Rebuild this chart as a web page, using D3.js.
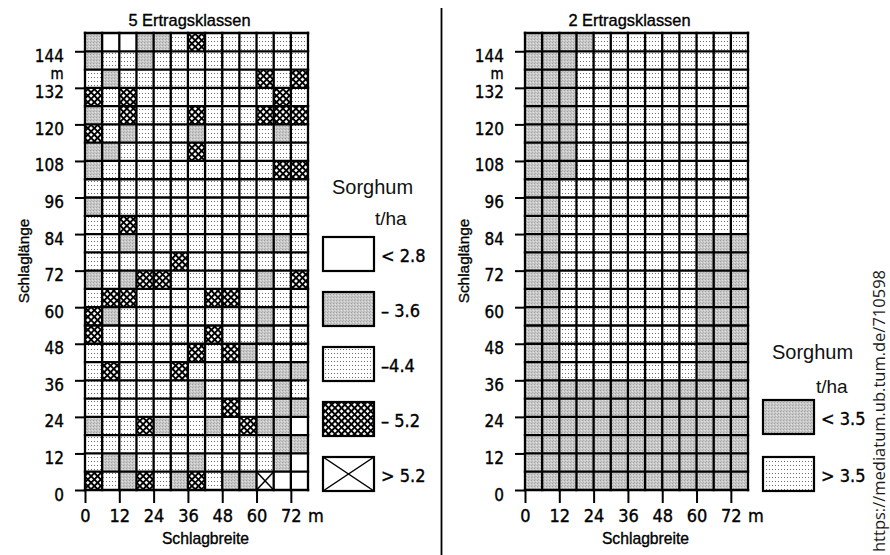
<!DOCTYPE html>
<html><head><meta charset="utf-8">
<script src="https://cdn.jsdelivr.net/npm/d3@7"></script>
<style>body{margin:0;background:#fff}</style>
</head><body><svg id="c" width="890" height="555"></svg>
<script>
// ---------- DATA ----------
const fieldWidth = 78;     // m (Schlagbreite)
const fieldLength = 150;   // m (Schlaglänge)
const cellSize = 6;        // m per plot
const yTickValues = [0, 12, 24, 36, 48, 60, 72, 84, 96, 108, 120, 132, 144];
const xTickValues = [0, 12, 24, 36, 48, 60, 72];

// left panel: 5 yield classes, rows from top (150 m) to bottom (0 m)
// 0: < 2.8   1: – 3.6   2: –4.4   3: – 5.2   4: > 5.2
const leftClasses = [
  [1,0,0,1,1,2,3,2,2,2,2,2,2],
  [1,2,2,1,2,2,2,2,2,2,2,2,2],
  [2,1,2,2,2,2,2,2,2,2,3,2,3],
  [3,2,3,2,2,2,2,2,2,2,2,3,2],
  [1,2,3,2,2,2,3,2,2,2,3,3,3],
  [3,2,1,2,2,2,1,2,2,2,2,1,2],
  [1,1,2,2,2,2,3,2,2,2,2,2,2],
  [1,2,2,2,2,2,2,2,2,2,2,3,3],
  [2,2,2,2,2,2,2,2,2,2,2,2,2],
  [1,2,2,2,2,2,2,2,2,2,2,2,2],
  [2,2,3,2,2,2,2,2,2,2,2,2,2],
  [2,2,1,2,2,2,2,2,2,2,1,1,2],
  [2,2,2,2,2,3,2,2,2,2,2,2,2],
  [1,2,1,3,3,2,2,2,2,2,1,2,3],
  [2,3,3,2,2,2,2,3,3,2,2,2,2],
  [3,1,2,2,2,2,2,2,2,2,1,2,2],
  [3,2,2,2,2,2,2,3,2,2,1,2,2],
  [2,2,2,2,2,2,3,2,3,1,2,2,2],
  [2,3,2,2,2,3,2,2,2,2,1,1,1],
  [2,2,2,2,2,2,1,2,2,2,2,1,2],
  [2,2,2,2,2,2,2,2,3,2,2,1,1],
  [1,2,2,3,1,2,2,1,2,3,1,1,0],
  [2,2,2,2,2,2,2,2,2,2,2,1,1],
  [2,1,1,2,2,2,1,2,2,2,2,1,0],
  [3,2,1,3,2,1,3,2,1,1,4,0,0]
];
// right panel: 2 yield classes; 0: < 3.5   1: > 3.5
const rightClasses = [
  [0,0,0,0,1,1,1,1,1,1,1,1,1],
  [0,0,0,1,1,1,1,1,1,1,1,1,1],
  [0,0,0,1,1,1,1,1,1,1,1,1,1],
  [0,0,0,1,1,1,1,1,1,1,1,1,1],
  [0,0,0,1,1,1,1,1,1,1,1,1,1],
  [0,0,0,1,1,1,1,1,1,1,1,1,1],
  [0,0,0,1,1,1,1,1,1,1,1,1,1],
  [0,0,0,1,1,1,1,1,1,1,1,1,1],
  [0,0,1,1,1,1,1,1,1,1,1,1,1],
  [0,0,1,1,1,1,1,1,1,1,1,1,1],
  [0,0,1,1,1,1,1,1,1,1,1,1,1],
  [0,0,1,1,1,1,1,1,1,1,0,0,0],
  [0,0,1,1,1,1,1,1,1,1,0,0,0],
  [0,0,1,1,1,1,1,1,1,1,0,0,0],
  [0,0,1,1,1,1,1,1,1,1,0,0,0],
  [0,0,1,1,1,1,1,1,1,1,0,0,0],
  [0,0,1,1,1,1,1,1,1,1,0,0,0],
  [0,0,1,1,1,1,1,1,1,1,0,0,0],
  [0,0,1,1,1,1,1,1,1,1,0,0,0],
  [0,0,0,0,0,0,0,0,0,0,0,0,0],
  [0,0,0,0,0,0,0,0,0,0,0,0,0],
  [0,0,0,0,0,0,0,0,0,0,0,0,0],
  [0,0,0,0,0,0,0,0,0,0,0,0,0],
  [0,0,0,0,0,0,0,0,0,0,0,0,0],
  [0,0,0,0,0,0,0,0,0,0,0,0,0]
];
const leftTitle = "5 Ertragsklassen";
const rightTitle = "2 Ertragsklassen";
const xAxisTitle = "Schlagbreite";
const yAxisTitle = "Schlaglänge";
const legendTitle = "Sorghum";
const legendUnit = "t/ha";
const leftLegendLabels = ["< 2.8", "– 3.6", "–4.4", "– 5.2", "> 5.2"];
const rightLegendLabels = ["< 3.5", "> 3.5"];
const sourceText = "https://mediatum.ub.tum.de/710598";

// ---------- DRAWING ----------
const svg = d3.select("#c");
svg.append("rect").attr("width", 890).attr("height", 555).attr("fill", "#fff");
const defs = svg.append("defs");

const pg = defs.append("pattern").attr("id", "pGray").attr("patternUnits", "userSpaceOnUse").attr("width", 3).attr("height", 3);
pg.append("rect").attr("width", 3).attr("height", 3).attr("fill", "#c8c8c8");
pg.append("rect").attr("x", 0).attr("y", 0).attr("width", 1).attr("height", 1).attr("fill", "#a2a2a2");
pg.append("rect").attr("x", 2).attr("y", 1).attr("width", 1).attr("height", 1).attr("fill", "#e0e0e0");
pg.append("rect").attr("x", 1).attr("y", 2).attr("width", 1).attr("height", 1).attr("fill", "#b2b2b2");

const pd = defs.append("pattern").attr("id", "pDot").attr("patternUnits", "userSpaceOnUse").attr("width", 3).attr("height", 4);
pd.append("rect").attr("width", 3).attr("height", 4).attr("fill", "#fff");
pd.append("rect").attr("x", 1).attr("y", 1).attr("width", 1).attr("height", 1).attr("fill", "#6e6e6e");

const pc = defs.append("pattern").attr("id", "pCross").attr("patternUnits", "userSpaceOnUse")
  .attr("width", 4.6).attr("height", 4.6).attr("patternTransform", "rotate(45)");
pc.append("rect").attr("width", 4.6).attr("height", 4.6).attr("fill", "#fff");
pc.append("rect").attr("width", 4.6).attr("height", 1.9).attr("fill", "#000");
pc.append("rect").attr("width", 1.9).attr("height", 4.6).attr("fill", "#000");

const leftFills = ["#fff", "url(#pGray)", "url(#pDot)", "url(#pCross)", "#fff"];
const rightFills = ["url(#pGray)", "url(#pDot)"];

const narrow = "'Liberation Sans Narrow','Arial Narrow','DejaVu Sans Condensed',sans-serif";
const regular = "'Liberation Sans',Arial,sans-serif";
const heavy = sel => sel.attr("stroke", "#000").attr("stroke-width", 0.35).attr("fill", "#000");

function panel(x0, classes, fills, title) {
  const x = d3.scaleLinear().domain([0, fieldWidth]).range([x0, x0 + 223]);
  const y = d3.scaleLinear().domain([0, fieldLength]).range([490, 33]);
  const g = svg.append("g");
  const cells = classes.flatMap((row, r) => row.map((k, c) => ({
    k, xm: c * cellSize, ym: fieldLength - (r + 1) * cellSize })));
  g.selectAll("rect.cell").data(cells).join("rect").attr("class", "cell")
    .attr("x", d => x(d.xm)).attr("y", d => y(d.ym + cellSize))
    .attr("width", d => x(d.xm + cellSize) - x(d.xm))
    .attr("height", d => y(d.ym) - y(d.ym + cellSize))
    .attr("fill", d => fills[d.k]);
  // X marks for highest class
  const xc = cells.filter(d => fills.length === 5 && d.k === 4);
  xc.forEach(d => {
    g.append("line").attr("x1", x(d.xm)).attr("y1", y(d.ym + cellSize)).attr("x2", x(d.xm + cellSize)).attr("y2", y(d.ym))
      .attr("stroke", "#000").attr("stroke-width", 1.5);
    g.append("line").attr("x1", x(d.xm + cellSize)).attr("y1", y(d.ym + cellSize)).attr("x2", x(d.xm)).attr("y2", y(d.ym))
      .attr("stroke", "#000").attr("stroke-width", 1.5);
  });
  // grid lines
  const vx = d3.range(0, fieldWidth + 1, cellSize);
  const hy = d3.range(0, fieldLength + 1, cellSize);
  g.selectAll("line.v").data(vx).join("line").attr("class", "v")
    .attr("x1", d => x(d)).attr("x2", d => x(d)).attr("y1", y(0) + 1.2).attr("y2", y(fieldLength) - 1.2)
    .attr("stroke", "#000").attr("stroke-width", 2.3);
  g.selectAll("line.h").data(hy).join("line").attr("class", "h")
    .attr("y1", d => y(d)).attr("y2", d => y(d)).attr("x1", x(0) - 1.2).attr("x2", x(fieldWidth) + 1.2)
    .attr("stroke", "#000").attr("stroke-width", 2.3);

  // axes
  const ya = g.append("g").attr("transform", `translate(${x0},0)`)
    .call(d3.axisLeft(y).tickValues(yTickValues).tickSize(10).tickPadding(11));
  ya.select(".domain").remove();
  ya.selectAll(".tick line").attr("stroke", "#000").attr("stroke-width", 2);
  ya.selectAll(".tick text").attr("dy", "0.59em").call(heavy)
    .style("font-family", narrow).style("font-size", "17px");
  const xa = g.append("g").attr("transform", `translate(0,${y(0)})`)
    .call(d3.axisBottom(x).tickValues(xTickValues).tickSize(13).tickPadding(6));
  xa.select(".domain").remove();
  xa.selectAll(".tick line").attr("stroke", "#000").attr("stroke-width", 2);
  xa.selectAll(".tick text").call(heavy)
    .style("font-family", narrow).style("font-size", "18px");
  // unit labels
  g.append("text").attr("x", x0 - 28).attr("y", 79).attr("text-anchor", "middle").call(heavy)
    .style("font-family", narrow).style("font-size", "15px").text("m");
  g.append("text").attr("x", x(fieldWidth) + 8).attr("y", 522).attr("text-anchor", "middle").call(heavy)
    .style("font-family", narrow).style("font-size", "18px").text("m");
  // titles
  g.append("text").attr("x", x(fieldWidth / 2) - 7).attr("y", 26).attr("text-anchor", "middle").call(heavy)
    .style("font-family", regular).style("font-size", "16.4px").text(title);
  g.append("text").attr("x", x(fieldWidth / 2) + 9).attr("y", 544).attr("text-anchor", "middle").call(heavy)
    .style("font-family", regular).style("font-size", "15.7px").text(xAxisTitle);
  g.append("text").attr("transform", `translate(${x0 - 56},261) rotate(-90)`).attr("text-anchor", "middle").call(heavy)
    .style("font-family", regular).style("font-size", "15.4px").text(yAxisTitle);
}

panel(85, leftClasses, leftFills, leftTitle);
panel(525, rightClasses, rightFills, rightTitle);

// separator
svg.append("line").attr("x1", 441.5).attr("x2", 441.5).attr("y1", 8).attr("y2", 555)
  .attr("stroke", "#000").attr("stroke-width", 1.8);

// legends
function legend(bx, titleY, unitX, unitY, labels, fills, firstTop, step, isLeft) {
  const g = svg.append("g");
  g.append("text").attr("x", bx + 9).attr("y", titleY).attr("fill", "#111")
    .style("font-family", regular).style("font-size", "20px").text(legendTitle);
  g.append("text").attr("x", unitX).attr("y", unitY).attr("fill", "#111")
    .style("font-family", regular).style("font-size", "19px").text(legendUnit);
  const items = labels.map((l, i) => ({ l, i, top: firstTop + i * step }));
  const it = g.selectAll("g.item").data(items).join("g").attr("class", "item");
  it.append("rect").attr("x", bx).attr("y", d => d.top).attr("width", 51).attr("height", 34)
    .attr("fill", d => fills[d.i]).attr("stroke", "#000").attr("stroke-width", 2.2);
  it.filter(d => isLeft && d.i === 4).each(function (d) {
    d3.select(this).append("line").attr("x1", bx).attr("y1", d.top).attr("x2", bx + 51).attr("y2", d.top + 34)
      .attr("stroke", "#000").attr("stroke-width", 1.5);
    d3.select(this).append("line").attr("x1", bx + 51).attr("y1", d.top).attr("x2", bx).attr("y2", d.top + 34)
      .attr("stroke", "#000").attr("stroke-width", 1.5);
  });
  it.append("text").attr("x", bx + 58).attr("y", d => d.top + 17 + 7.5).call(heavy)
    .style("font-family", narrow).style("font-size", "18px").attr("xml:space", "preserve")
    .text(d => d.l);
}
legend(323, 194, 375, 225, leftLegendLabels, leftFills, 237, 55, true);
legend(763, 359, 816, 393, rightLegendLabels, rightFills, 400, 57, false);

// source
svg.append("text").attr("transform", "translate(885,552) rotate(-90)")
  .style("font-family", "'Open Sans',sans-serif").style("font-size", "16.5px").attr("fill", "#1a1a1a")
  .text(sourceText);
</script></body></html>
